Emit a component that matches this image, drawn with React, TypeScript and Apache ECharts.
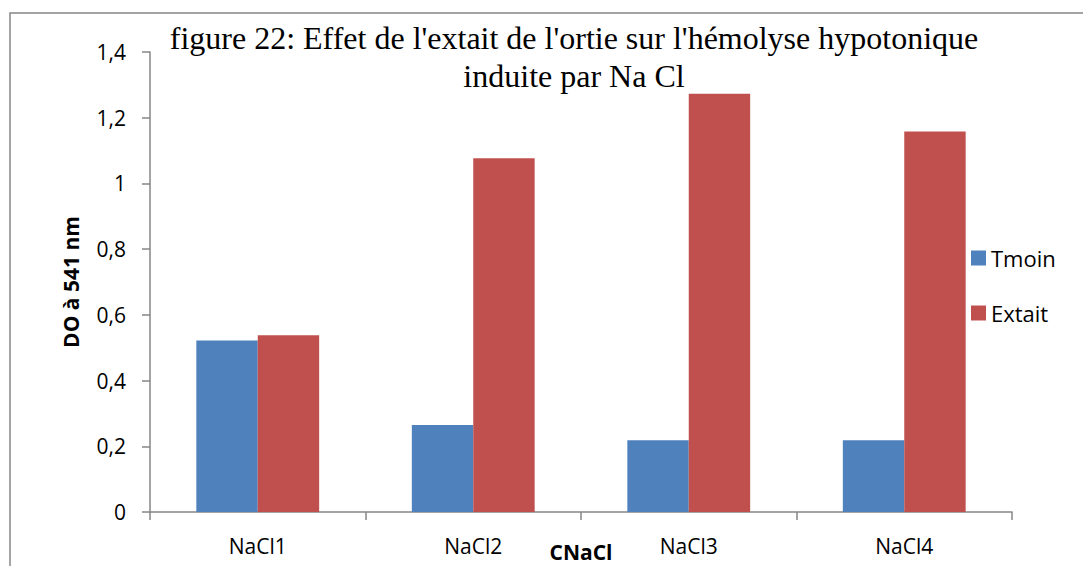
import React, { useEffect, useRef } from "react";
import * as echarts from "echarts";

const categories = ["NaCl1", "NaCl2", "NaCl3", "NaCl4"];
const tmoinValues = [0.522, 0.265, 0.218, 0.218];
const extaitValues = [0.538, 1.077, 1.273, 1.158];
const seriesNames = ["Tmoin", "Extait"];
const titleText = "figure 22: Effet de l'extait de l'ortie sur l'hémolyse hypotonique\ninduite par Na Cl";

const App: React.FC = () => {
  const ref = useRef<HTMLDivElement>(null);
  useEffect(() => {
    if (!ref.current) return;
    const chart = echarts.init(ref.current, null, { renderer: "svg" });
    const sans = "'Open Sans', 'Noto Sans', sans-serif";
    chart.setOption({
      animation: false,
      backgroundColor: "#ffffff",
      graphic: [
        {
          type: "rect",
          shape: { x: 10, y: 13, width: 1100, height: 600 },
          style: { fill: "none", stroke: "#868686", lineWidth: 1.5 },
          silent: true,
          z: -1,
        },
      ],
      title: {
        text: titleText,
        left: 574,
        top: 19,
        padding: 0,
        textAlign: "center",
        textStyle: {
          fontFamily: "'Liberation Serif', 'Times New Roman', serif",
          fontSize: 32,
          fontWeight: "normal",
          color: "#000",
          lineHeight: 38,
        },
      },
      legend: {
        orient: "vertical",
        left: 971,
        top: 247,
        padding: 0,
        itemWidth: 15,
        itemHeight: 15,
        itemGap: 33,
        icon: "rect",
        textStyle: { fontFamily: sans, fontSize: 22, color: "#000", lineHeight: 15 },
        data: seriesNames,
      },
      grid: { left: 150, top: 52, width: 862, height: 460, containLabel: false, outerBoundsMode: "none" },
      xAxis: {
        type: "category",
        data: categories,
        name: "CNaCl",
        nameLocation: "middle",
        nameGap: 29,
        nameMoveOverlap: false,
        nameTextStyle: { fontFamily: sans, fontSize: 21, fontWeight: "bold", color: "#000" },
        axisLine: { lineStyle: { color: "#868686", width: 1.5 } },
        axisTick: { show: true, length: 8, lineStyle: { color: "#868686", width: 1.5 } },
        axisLabel: { fontFamily: sans, fontSize: 21, color: "#000", margin: 23 },
      },
      yAxis: {
        type: "value",
        min: 0,
        max: 1.4,
        interval: 0.2,
        name: "DO à 541 nm",
        nameLocation: "middle",
        nameRotate: 90,
        nameGap: 69,
        nameMoveOverlap: false,
        nameTextStyle: { fontFamily: sans, fontSize: 21, fontWeight: "bold", color: "#000" },
        splitLine: { show: false },
        axisLine: { show: true, lineStyle: { color: "#868686", width: 1.5 } },
        axisTick: { show: true, length: 8, lineStyle: { color: "#868686", width: 1.5 } },
        axisLabel: {
          fontFamily: sans,
          fontSize: 21,
          color: "#000",
          margin: 24,
          formatter: (v: number) => (Math.round(v * 10) / 10).toString().replace(".", ","),
        },
      },
      series: [
        {
          name: seriesNames[0],
          type: "bar",
          data: tmoinValues,
          itemStyle: { color: "#4F81BD" },
          barGap: "0%",
          barCategoryGap: "43%",
        },
        {
          name: seriesNames[1],
          type: "bar",
          data: extaitValues,
          itemStyle: { color: "#C0504D" },
          barGap: "0%",
          barCategoryGap: "43%",
        },
      ],
    });
    return () => chart.dispose();
  }, []);
  return <div ref={ref} style={{ width: 1083, height: 566, position: "absolute", left: 0, top: 0 }} />;
};

export default App;
